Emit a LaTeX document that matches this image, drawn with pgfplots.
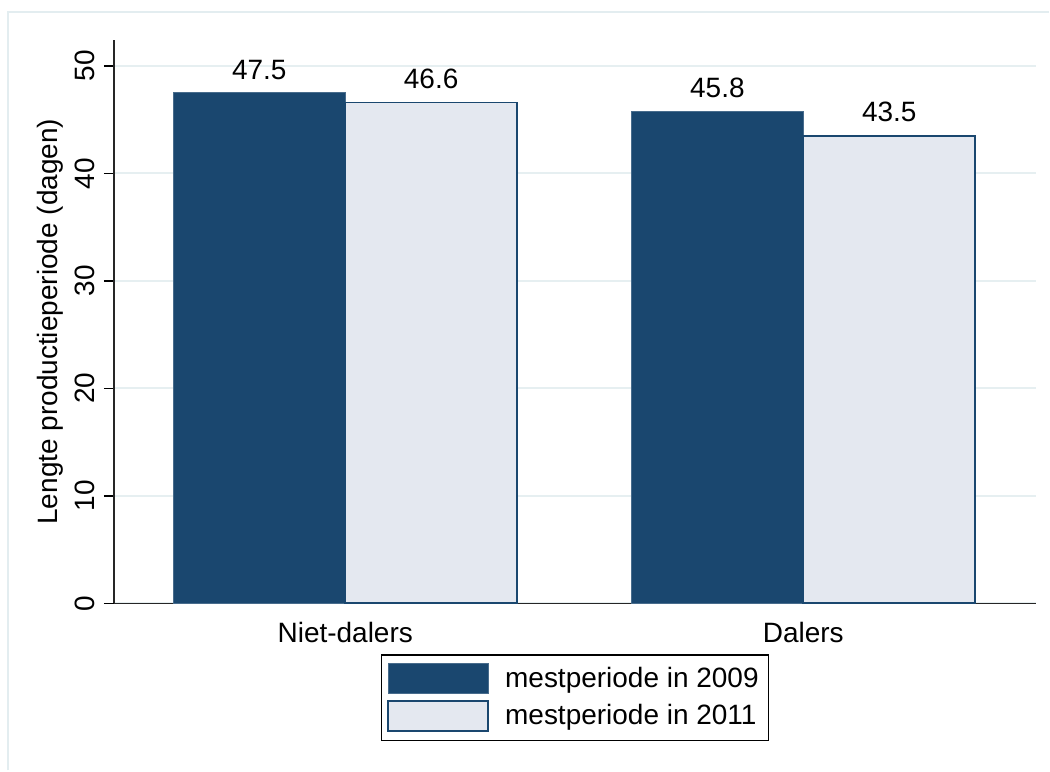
\documentclass[border=0pt]{standalone}
\usepackage{pgfplots}
\pgfplotsset{compat=1.18}
\usepackage{fontspec}
\setmainfont{Liberation Sans}

\definecolor{navy}{HTML}{1A476F}
\definecolor{lightbar}{HTML}{E4E8F0}
\definecolor{gridc}{HTML}{E6EFF1}
\definecolor{framec}{HTML}{E3EDF0}

\begin{document}
\begin{tikzpicture}
\begin{axis}[
    scale only axis,
    width=461.5bp, height=282bp,
    font=\fontsize{14bp}{16bp}\selectfont,
    /pgf/number format/assume math mode=true,
    ybar=0pt,
    bar width=86bp,
    xmin=-0.505, xmax=1.508,
    ymin=0, ymax=52.42,
    xtick={0,1},
    xticklabels={Niet-dalers, Dalers},
    x tick style={draw=none},
    xticklabel style={yshift=-1bp},
    ytick={0,10,20,30,40,50},
    yticklabel style={rotate=90, anchor=south, yshift=1bp},
    y tick style={black, line width=0.6bp},
    major tick length=5bp,
    tick align=outside,
    ymajorgrids,
    grid style={gridc, line width=1bp},
    axis lines*=left,
    axis line style={line width=0.8bp, black!85},
    ylabel={Lengte productieperiode (dagen)},
    every axis y label/.style={at={(axis description cs:-0.0693,0.5)}, rotate=90, anchor=center},
    nodes near coords={\pgfmathprintnumber[fixed,precision=1,fixed zerofill]{\pgfplotspointmeta}},
    every node near coord/.append style={font=\fontsize{14bp}{16bp}\selectfont, black, anchor=south, yshift=3bp},
    legend style={
        at={(0.5,-0.0904)}, anchor=north,
        draw=black, line width=0.6bp,
        inner xsep=3bp, inner ysep=4bp,
        row sep=3bp,
        font=\fontsize{14bp}{16bp}\selectfont,
        /tikz/every odd column/.append style={column sep=6bp},
    },
    legend cell align=left,
    legend image code/.code={\draw[#1] (0bp,-7.5bp) rectangle (50bp,7.5bp);},
    clip=false,
    after end axis/.code={
        \draw[framec, line width=1bp] (rel axis cs:-0.1148,-0.2961) -- (rel axis cs:-0.1148,1.0496) -- (rel axis cs:1.0141,1.0496);
        \path (rel axis cs:-0.1235,-0.2961) rectangle (rel axis cs:1.0141,1.0709);
    },
]
\addplot[fill=navy, draw=navy!80!white, line width=0.5bp] coordinates {(0,47.5) (1,45.8)};
\addplot[fill=lightbar, draw=navy, line width=1bp] coordinates {(0,46.6) (1,43.5)};
\legend{mestperiode in 2009, mestperiode in 2011}
\end{axis}
\end{tikzpicture}
\end{document}
